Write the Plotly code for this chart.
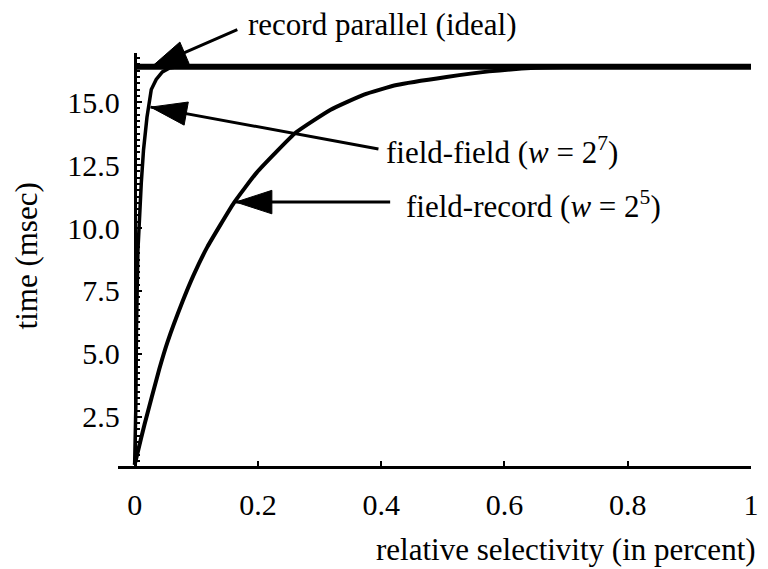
import plotly.graph_objects as go

# ---- data ----
record_x = [0.0, 1.0]
record_y = [16.4, 16.4]

field_field_x = [0.0, 0.002, 0.003, 0.004, 0.0053, 0.0108, 0.0144, 0.020, 0.024, 0.027, 0.035, 0.045, 0.056, 0.07, 1.0]
field_field_y = [0.6, 3.0, 6.0, 8.0, 9.1, 11.8, 13.1, 14.4, 14.97, 15.5, 15.9, 16.2, 16.35, 16.4, 16.4]

field_record_x = [0.0, 0.005, 0.016, 0.040, 0.053, 0.078, 0.096, 0.118, 0.161, 0.198, 0.262, 0.318, 0.372, 0.425, 0.506, 0.575, 0.65, 0.72, 1.0]
field_record_y = [0.6, 1.1, 2.2, 4.4, 5.45, 7.1, 8.15, 9.25, 11.0, 12.2, 13.8, 14.7, 15.3, 15.68, 16.0, 16.22, 16.36, 16.4, 16.4]

x_tickvals = [0, 0.2, 0.4, 0.6, 0.8, 1.0]
x_ticktext = ["0", "0.2", "0.4", "0.6", "0.8", "1"]
y_tickvals = [2.5, 5.0, 7.5, 10.0, 12.5, 15.0]
y_ticktext = ["2.5", "5.0", "7.5", "10.0", "12.5", "15.0"]

labels = ["record parallel (ideal)",
          "field-field (<i>w</i> = 2<sup>7</sup>)",
          "field-record (<i>w</i> = 2<sup>5</sup>)"]
arrow_tip_x = [0.027, 0.026, 0.164]
arrow_tip_y = [16.39, 14.8, 11.03]
arrow_tail_x = [0.169, 0.398, 0.417]
arrow_tail_y = [17.9, 13.13, 11.03]
label_x = [0.203, 0.421, 0.452]   # paper
label_y = [1.068, 0.763, 0.632]   # paper

FONT = "Liberation Serif"
TXT = 31
TICK = 30
fig = go.Figure()
fig.add_trace(go.Scatter(x=record_x, y=record_y, mode="lines",
                         line=dict(color="black", width=6), showlegend=False))
fig.add_trace(go.Scatter(x=field_field_x, y=field_field_y, mode="lines",
                         line=dict(color="black", width=3.5), showlegend=False))
fig.add_trace(go.Scatter(x=field_record_x, y=field_record_y, mode="lines",
                         line=dict(color="black", width=4, shape="spline", smoothing=0.4),
                         showlegend=False))

for i in range(3):
    fig.add_annotation(x=arrow_tip_x[i], y=arrow_tip_y[i], ax=arrow_tail_x[i], ay=arrow_tail_y[i],
                       xref="x", yref="y", axref="x", ayref="y", text="",
                       showarrow=True, arrowhead=0, arrowwidth=3, arrowcolor="black")
    fig.add_trace(go.Scatter(x=[arrow_tail_x[i], arrow_tip_x[i]], y=[arrow_tail_y[i], arrow_tip_y[i]],
                             mode="markers", cliponaxis=False, showlegend=False,
                             marker=dict(symbol="arrow", size=[0, 38], angleref="previous",
                                         color="black", opacity=1,
                                         line=dict(width=1, color="black"))))
    fig.add_annotation(x=label_x[i], y=label_y[i], xref="paper", yref="paper",
                       text=labels[i], showarrow=False, xanchor="left", yanchor="middle",
                       font=dict(family=FONT, size=TXT, color="black"))

fig.add_annotation(x=-0.145, y=0.508, xref="paper", yref="paper", text="time (msec)",
                   textangle=-90, showarrow=False, xanchor="center", yanchor="middle",
                   font=dict(family=FONT, size=TXT, color="black"))
fig.add_annotation(x=0.707, y=-0.201, xref="paper", yref="paper",
                   text="relative selectivity (in percent)",
                   showarrow=False, xanchor="center", yanchor="middle",
                   font=dict(family=FONT, size=TXT, color="black"))

fig.update_layout(
    width=768, height=569,
    margin=dict(l=118, r=9, t=53, b=103),
    paper_bgcolor="white", plot_bgcolor="white",
    showlegend=False, hovermode=False,
    xaxis=dict(range=[-0.027, 1.0], showgrid=False, zeroline=False,
               showline=True, linewidth=3, linecolor="black",
               ticks="inside", ticklen=5, tickwidth=2, tickcolor="black",
               tickvals=x_tickvals, ticktext=x_ticktext, ticklabelstandoff=10,
               tickfont=dict(family=FONT, size=TICK, color="black")),
    yaxis=dict(range=[0.55, 16.95], anchor="free", position=0.0264,
               showgrid=False, zeroline=False,
               showline=True, linewidth=3, linecolor="black",
               ticks="inside", ticklen=5, tickwidth=2, tickcolor="black",
               tickvals=y_tickvals, ticktext=y_ticktext, ticklabelstandoff=8,
               minor=dict(dtick=0.25, ticks="inside", ticklen=3, tickwidth=2, tickcolor="black"),
               tickfont=dict(family=FONT, size=TICK, color="black")),
)

# remove the default page margin so the 768x569 figure fills the window exactly
fig.write_html("out.html", config={"displayModeBar": False},
               post_script="document.body.style.margin='0px';document.body.style.overflow='hidden';")
